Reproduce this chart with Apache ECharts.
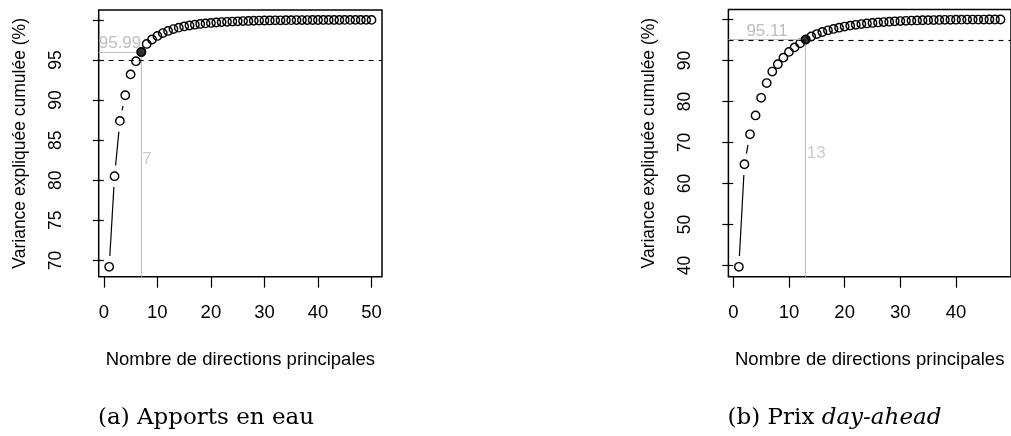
<!DOCTYPE html>
<html><head><meta charset="utf-8">
<script src="https://cdn.jsdelivr.net/npm/echarts@6/dist/echarts.min.js"></script>
<style>html,body{margin:0;padding:0;background:#fff}#c{width:1011px;height:436px}</style>
</head><body><div id="c"></div>
<script>
// ---- data ----
const apportsValues = [69.2, 80.5, 87.4, 90.6, 93.2, 94.85, 95.99, 97.0, 97.55, 98.0,
  98.35, 98.62, 98.85, 99.03, 99.18, 99.3, 99.4, 99.49, 99.56, 99.62,
  99.67, 99.72, 99.76, 99.79, 99.82, 99.85, 99.87, 99.89, 99.91, 99.92,
  99.93, 99.94, 99.95, 99.96, 99.965, 99.97, 99.975, 99.98, 99.983, 99.986,
  99.989, 99.991, 99.993, 99.995, 99.996, 99.997, 99.998, 99.999, 99.9995, 100];
const prixValues = [39.7, 64.7, 72.0, 76.6, 80.9, 84.5, 87.3, 89.1, 90.7, 92.1,
  93.2, 94.2, 95.11, 95.85, 96.45, 96.95, 97.35, 97.7, 98.0, 98.27,
  98.5, 98.7, 98.88, 99.03, 99.16, 99.28, 99.38, 99.47, 99.55, 99.62,
  99.68, 99.73, 99.77, 99.81, 99.84, 99.87, 99.89, 99.91, 99.93, 99.945,
  99.96, 99.97, 99.98, 99.985, 99.99, 99.995, 99.998, 100];
const apportsSelected = 7;
const prixSelected = 13;
const threshold = 95;
const xTicksA = [0, 10, 20, 30, 40, 50];
const xTicksB = [0, 10, 20, 30, 40];
const yTicksA = [70, 75, 80, 85, 90, 95, 100];
const yLabelsA = [70, 75, 80, 85, 90, 95];
const yTicksB = [40, 50, 60, 70, 80, 90, 100];
const yLabelsB = [40, 50, 60, 70, 80, 90];
const xTitle = 'Nombre de directions principales';
const yTitle = 'Variance expliquée cumulée (%)';
const captionA = '(a) Apports en eau';
const captionBPrefix = '(b) Prix ';
const captionBItalic = 'day-ahead';

// ---- chart ----
const SANS = 'Liberation Sans';
const SERIF = 'DejaVu Serif';
const GRAY = '#bebebe';
const GAP = 10.8;

function ext(vals) {
  const n = vals.length;
  const ymin = Math.min.apply(null, vals), ymax = Math.max.apply(null, vals);
  const r = ymax - ymin;
  return { xmin: 1 - 0.04 * (n - 1), xmax: n + 0.04 * (n - 1), ymin: ymin - 0.04 * r, ymax: ymax + 0.04 * r };
}

function segRender(params, api) {
  const p1 = api.coord([api.value(0), api.value(1)]);
  const p2 = api.coord([api.value(2), api.value(3)]);
  const dx = p2[0] - p1[0], dy = p2[1] - p1[1];
  const d = Math.sqrt(dx * dx + dy * dy);
  if (d <= 2 * GAP) return null;
  const ux = dx / d, uy = dy / d;
  return {
    type: 'line',
    shape: { x1: p1[0] + ux * GAP, y1: p1[1] + uy * GAP, x2: p2[0] - ux * GAP, y2: p2[1] - uy * GAP },
    style: { stroke: '#000', lineWidth: 1.2 }
  };
}

const panels = [
  { vals: apportsValues, sel: apportsSelected, xt: xTicksA, yt: yTicksA, yl: yLabelsA, grid: { left: 98.7, top: 10, width: 283.3, height: 266.7 } },
  { vals: prixValues, sel: prixSelected, xt: xTicksB, yt: yTicksB, yl: yLabelsB, grid: { left: 728.4, top: 9.6, width: 283, height: 267.1 } }
];

const grids = [], xAxes = [], yAxes = [], series = [];
panels.forEach(function (p, k) {
  const e = ext(p.vals);
  grids.push(Object.assign({ show: true, borderColor: '#000', borderWidth: 1.5, backgroundColor: 'transparent' }, p.grid));
  xAxes.push({
    gridIndex: k, type: 'value', min: e.xmin, max: e.xmax,
    axisLine: { show: false }, splitLine: { show: false },
    axisTick: { show: true, customValues: p.xt, length: 11, lineStyle: { color: '#000', width: 1.2 } },
    axisLabel: { customValues: p.xt, margin: 27, color: '#000', fontSize: 18.5, fontFamily: SANS },
    name: xTitle, nameLocation: 'middle', nameGap: 74,
    nameTextStyle: { color: '#000', fontSize: 18.5, fontFamily: SANS }
  });
  yAxes.push({
    gridIndex: k, type: 'value', min: e.ymin, max: e.ymax,
    axisLine: { show: false }, splitLine: { show: false },
    axisTick: { show: true, customValues: p.yt, length: 11, lineStyle: { color: '#000', width: 1.2 } },
    axisLabel: { customValues: p.yl, rotate: 90, margin: 34, color: '#000', fontSize: 17.5, fontFamily: SANS },
    name: yTitle, nameLocation: 'middle', nameGap: 70, nameRotate: 90,
    nameTextStyle: { color: '#000', fontSize: 17.5, fontFamily: SANS }
  });
  const pts = p.vals.map(function (v, i) { return [i + 1, v]; });
  const segs = [];
  for (let i = 0; i < p.vals.length - 1; i++) segs.push([i + 1, p.vals[i], i + 2, p.vals[i + 1]]);
  const selVal = p.vals[p.sel - 1];
  const dataMin = Math.min.apply(null, p.vals);
  // gray reference lines
  series.push({
    type: 'line', xAxisIndex: k, yAxisIndex: k, data: [], silent: true, z: 1,
    markLine: {
      silent: true, symbol: 'none', animation: false,
      lineStyle: { color: GRAY, type: 'solid', width: 1.1 },
      data: [
        [{ coord: [e.xmin, selVal], label: { show: true, position: 'insideMiddleTop', distance: 0, formatter: selVal.toFixed(2), color: GRAY, fontSize: 17, fontFamily: SANS } },
         { coord: [p.sel, selVal] }],
        [{ coord: [p.sel, e.ymin], label: { show: false } }, { coord: [p.sel, selVal] }]
      ]
    }
  });
  // threshold dashed line
  series.push({
    type: 'line', xAxisIndex: k, yAxisIndex: k, data: [], silent: true, z: 2,
    markLine: {
      silent: true, symbol: 'none', animation: false,
      lineStyle: { color: '#000', type: [5, 5], width: 1.1 },
      label: { show: false },
      data: [[{ coord: [e.xmin, threshold] }, { coord: [e.xmax, threshold] }]]
    }
  });
  // label of selected count
  series.push({
    type: 'scatter', xAxisIndex: k, yAxisIndex: k, silent: true, z: 2, symbolSize: 0,
    data: [[p.sel, (dataMin + selVal) / 2]],
    label: { show: true, position: 'right', distance: 1, formatter: String(p.sel), color: GRAY, fontSize: 17, fontFamily: SANS }
  });
  // connecting segments
  series.push({
    type: 'custom', xAxisIndex: k, yAxisIndex: k, silent: true, z: 3,
    data: segs, encode: { x: [0, 2], y: [1, 3] }, renderItem: segRender
  });
  // open circles
  series.push({
    type: 'scatter', xAxisIndex: k, yAxisIndex: k, silent: true, z: 4,
    symbol: 'circle', symbolSize: 8.4, data: pts,
    itemStyle: { color: 'rgba(0,0,0,0)', borderColor: '#000', borderWidth: 1.4, opacity: 1 }
  });
  // selected filled point
  series.push({
    type: 'scatter', xAxisIndex: k, yAxisIndex: k, silent: true, z: 5,
    symbol: 'circle', symbolSize: 9, data: [[p.sel, selVal]],
    itemStyle: { color: '#000', borderColor: '#000', borderWidth: 1 }
  });
});

const chart = echarts.init(document.getElementById('c'), null, { renderer: 'canvas' });
chart.setOption({
  animation: false,
  backgroundColor: '#fff',
  grid: grids, xAxis: xAxes, yAxis: yAxes, series: series,
  graphic: [
    { type: 'text', x: 206, y: 418, style: { text: captionA, align: 'center', verticalAlign: 'middle', fill: '#000', font: '23px "' + SERIF + '"' } },
    { type: 'text', x: 834.5, y: 418, style: {
        text: captionBPrefix + '{i|' + captionBItalic + '}', align: 'center', verticalAlign: 'middle', fill: '#000', font: '23px "' + SERIF + '"',
        rich: { i: { fontStyle: 'italic', fontFamily: SERIF, fontSize: 23, fill: '#000' } } } }
  ]
});
</script></body></html>
